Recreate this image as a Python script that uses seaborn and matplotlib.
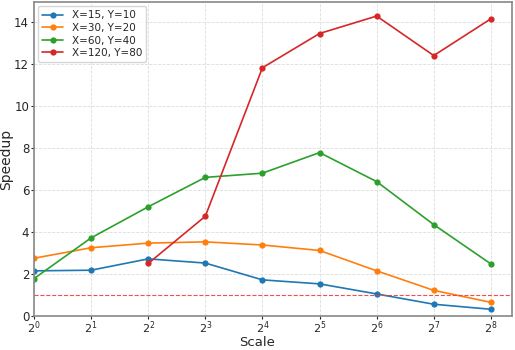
import numpy as np
import pandas as pd
import matplotlib
matplotlib.use('Agg')
import matplotlib.pyplot as plt
import seaborn as sns

# Valeurs
scales = [1, 2, 4, 8, 16, 32, 64, 128, 256]
series_names = ['X=15, Y=10', 'X=30, Y=20', 'X=60, Y=40', 'X=120, Y=80']
speedup_15 = [2.15, 2.18, 2.72, 2.52, 1.72, 1.53, 1.05, 0.56, 0.32]
speedup_30 = [2.75, 3.25, 3.47, 3.53, 3.38, 3.12, 2.15, 1.22, 0.65]
speedup_60 = [1.78, 3.72, 5.20, 6.60, 6.80, 7.78, 6.40, 4.35, 2.48]
speedup_120 = [np.nan, np.nan, 2.50, 4.75, 11.82, 13.45, 14.28, 12.40, 14.15]

rows = []
for name, vals in zip(series_names, [speedup_15, speedup_30, speedup_60, speedup_120]):
    for s, v in zip(scales, vals):
        if not np.isnan(v):
            rows.append({'Scale': s, 'Speedup': v, 'Config': name})
df = pd.DataFrame(rows)

sns.set_style('white')
plt.rcParams['font.family'] = ['DejaVu Sans']

fig, ax = plt.subplots(figsize=(5.15, 3.5), dpi=100)
sns.lineplot(data=df, x='Scale', y='Speedup', hue='Config', hue_order=series_names,
             palette=['#1f77b4', '#ff7f0e', '#2ca02c', '#d62728'],
             marker='o', markersize=4.5, markeredgewidth=0, linewidth=1.2, ax=ax)
ax.axhline(1, color='#f03c3c', linestyle='--', linewidth=0.8, alpha=0.9, zorder=2)

ax.set_xscale('log', base=2)
ax.set_xticks(scales)
ax.set_xlim(1, 2 ** 8.37)
ax.set_ylim(0, 14.95)
ax.grid(True, linestyle='--', color='#dddddd', linewidth=0.6, zorder=0)
ax.tick_params(labelsize=8.5, length=2, width=0.8, direction='out', left=True, bottom=True, pad=1.5)
ax.tick_params(axis='x', labelsize=8, pad=0.3)
ax.set_xlabel('Scale', fontsize=9.5, va='bottom')
ax.set_ylabel('Speedup', fontsize=10, labelpad=1)
for sp in ax.spines.values():
    sp.set_color('#888888')
    sp.set_linewidth(1.2)

leg = ax.legend(loc='upper left', fontsize=7.5, frameon=True, borderaxespad=0.4,
                labelspacing=0.25, handlelength=2.0)
leg.get_frame().set_edgecolor('#cccccc')

fig.subplots_adjust(left=34 / 515, right=512 / 515, bottom=1 - 316 / 350, top=1 - 2 / 350)
# label "Scale" calé en bas de la figure
ax.xaxis.set_label_coords(0.5, 0.5 / 350, transform=fig.transFigure)
plt.savefig('out.png', dpi=100)
